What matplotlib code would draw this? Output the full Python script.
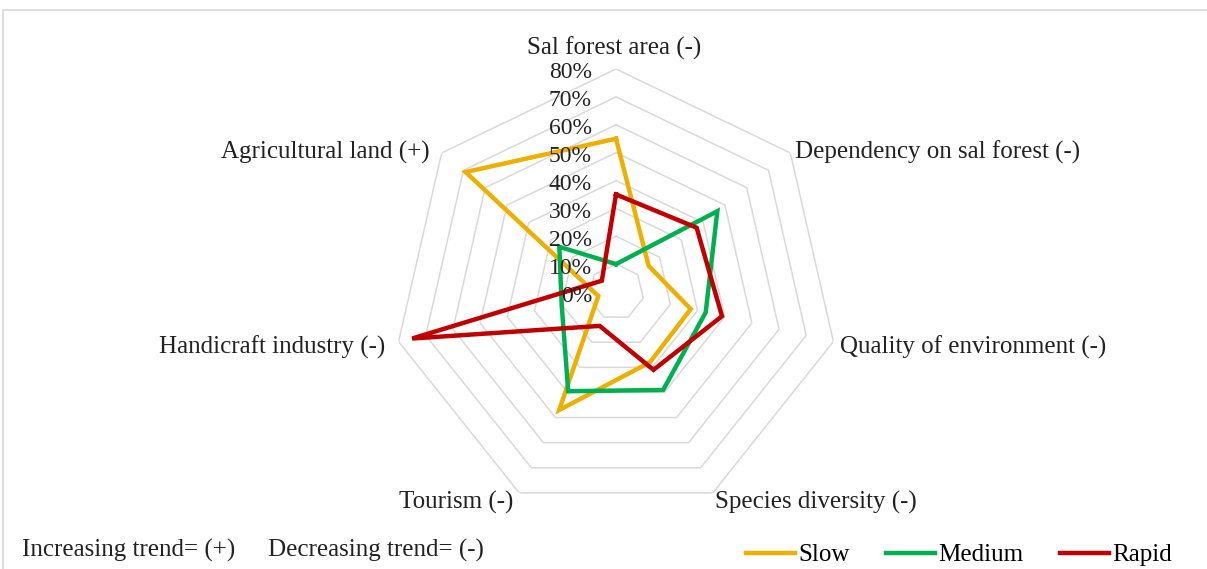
import numpy as np
import matplotlib
matplotlib.use("Agg")
import matplotlib.pyplot as plt
from matplotlib.patches import Rectangle
from matplotlib.transforms import offset_copy

plt.rcParams['font.family'] = ['Liberation Serif', 'DejaVu Serif']

# Indicators around the radar, clockwise from the top
categories = ['Sal forest area (-)', 'Dependency on sal forest (-)',
              'Quality of environment (-)', 'Species diversity (-)',
              'Tourism (-)', 'Handicraft industry (-)', 'Agricultural land (+)']

# Share of responses per urbanisation rate
slow = [0.55, 0.15, 0.275, 0.28, 0.47, 0.065, 0.69]
medium = [0.10, 0.465, 0.33, 0.39, 0.395, 0.20, 0.26]
rapid = [0.35, 0.37, 0.39, 0.31, 0.135, 0.75, 0.065]

series_names = ['Slow', 'Medium', 'Rapid']
series_colors = ['#EBB000', '#00B050', '#C00000']
rings = [0.0, 0.1, 0.2, 0.3, 0.4, 0.5, 0.6, 0.7, 0.8]
ring_labels = ['0%', '10%', '20%', '30%', '40%', '50%', '60%', '70%', '80%']

# label placement: (x offset px, y offset px, ha)
label_offsets = [(-2, 21, 'center'), (5, 1, 'left'), (7, -6, 'left'),
                 (2, -10, 'left'), (-6, -10, 'right'), (-13, -6, 'right'),
                 (-12, 1, 'right')]

W, H = 1207, 569
FS = 18
fig = plt.figure(figsize=(W / 100, H / 100), dpi=100)

# light chart-area border
fig.patches.append(Rectangle((3 / W, -0.1), 1.2, (H - 10) / H + 0.1,
                             transform=fig.transFigure, fill=False,
                             edgecolor='#d9d9d9', linewidth=1.2))

cx, cy, R = 616, H - 292, 223
ax = fig.add_axes([(cx - R) / W, (cy - R) / H, 2 * R / W, 2 * R / H],
                  projection='polar')
ax.set_theta_offset(np.pi / 2)
ax.set_theta_direction(-1)
ax.set_ylim(0, 0.8)
ax.grid(False)
ax.spines['polar'].set_visible(False)
ax.set_xticks([])
ax.set_yticks([])
ax.patch.set_alpha(0)

n = len(categories)
theta = np.linspace(0, 2 * np.pi, n, endpoint=False)
theta_closed = np.append(theta, theta[0])

# heptagonal gridlines
for r in rings[1:]:
    ax.plot(theta_closed, [r] * (n + 1), color='#d9d9d9', lw=1.1, zorder=1)

for name, vals, col in zip(series_names, [slow, medium, rapid], series_colors):
    ax.plot(theta_closed, vals + vals[:1], color=col, lw=3.2,
            solid_joinstyle='miter', label=name, zorder=3)

# radial percentage labels up the top spoke
tr = offset_copy(ax.transData, fig=fig, x=-24, y=-4, units='dots')
for r, lab in zip(rings, ring_labels):
    ax.text(0, r, lab, transform=tr, ha='right', va='center',
            fontsize=17, color='#222222', zorder=4)

for t, lab, (dx, dy, ha) in zip(theta, categories, label_offsets):
    ax.annotate(lab, xy=(t, 0.8), xytext=(dx, dy), textcoords='offset pixels',
                ha=ha, va='center', fontsize=FS, color='#222222',
                annotation_clip=False)

fig.text(22 / W, 1 - 550 / H, 'Increasing trend= (+)',
         ha='left', va='center', fontsize=FS, color='#222222')
fig.text(268 / W, 1 - 550 / H, 'Decreasing trend= (-)',
         ha='left', va='center', fontsize=FS, color='#222222')

fig.legend(loc='center right', bbox_to_anchor=(1182 / W, 1 - 555 / H),
           ncol=3, frameon=False, fontsize=FS, handlelength=1.95,
           handletextpad=0.15, columnspacing=1.45, borderaxespad=0)

fig.savefig('out.png', dpi=100, facecolor='white')
